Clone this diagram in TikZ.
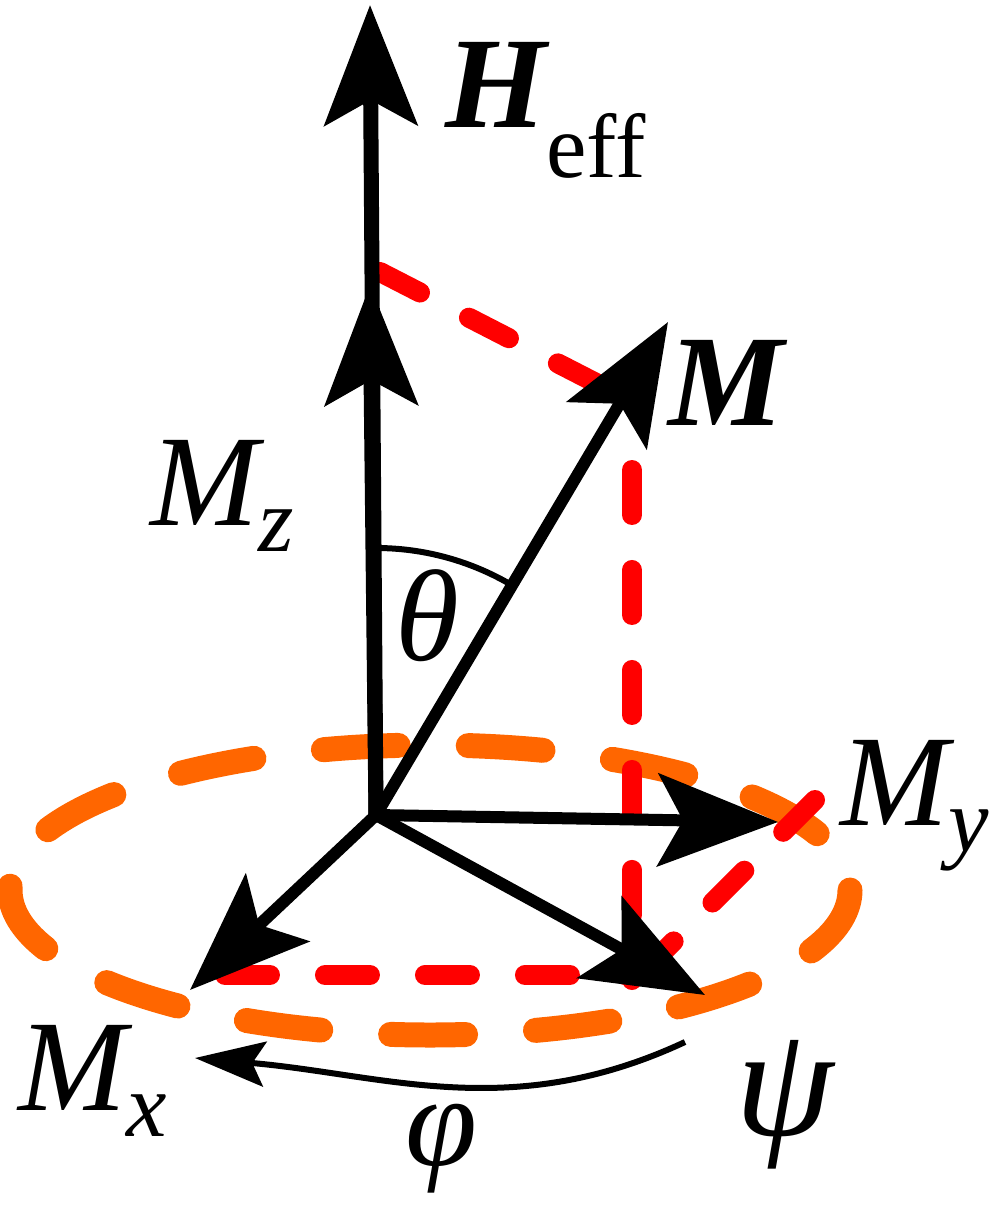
\documentclass[tikz,border=0pt]{standalone}
\usepackage{fontspec}
\setmainfont{Liberation Serif}
\usetikzlibrary{arrows.meta}
\tikzset{
  vec/.style={line width=0.3cm,-{Stealth[length=2.4cm,width=1.85cm,inset=0.5cm]}},
  thin vec/.style={line width=0.12cm,-{Stealth[length=1.4cm,width=0.9cm,inset=0.25cm]}},
  proj/.style={red,line width=0.4cm,line cap=round,dash pattern=on 0.9cm off 1.1cm},
  orbit/.style={orange!80!red,line width=0.5cm,line cap=round,dash pattern=on 1.5cm off 1.4cm},
  lbl/.style={font=\fontsize{74}{80}\selectfont\itshape,inner sep=0pt},
}
\begin{document}
\begin{tikzpicture}[x=0.02cm,y=-0.02cm]
  \useasboundingbox (0,0) rectangle (1004,1209);

  % precession orbit
  \draw[orbit] (430,890) ellipse (420 and 145);

  % projections
  \draw[proj] (380,272) -- (600,385);
  \draw[proj] (632,470) -- (632,980);
  \draw[proj] (225,975) -- (650,975);
  \draw[proj] (815,800) -- (650,965);

  % vectors
  \coordinate (o) at (376,815);
  \coordinate (heff) at (370,5);
  \coordinate (mz) at (370,285);
  \coordinate (m) at (668,322);
  \coordinate (my) at (778,822);
  \coordinate (mx) at (190,990);
  \coordinate (psi) at (705,995);
  \draw[vec] (o) -- (heff);
  \draw[vec] (o) -- (mz);
  \draw[vec,line width=0.24cm] (o) -- (m);
  \draw[vec,line width=0.24cm] (o) -- (my);
  \draw[vec,line width=0.24cm] (o) -- (mx);
  \draw[vec,line width=0.24cm] (o) -- (psi);

  % angles
  \draw[line width=0.12cm] ([shift={(-90:267)}]o) arc[start angle=-90,end angle=-59.4,radius=267];
  \draw[thin vec] (685,1042) to[out=205,in=-5] (195,1058);

  % labels
  \node[lbl,anchor=base west] (lheff) at (445,128) {\bfseries H\textsubscript{\upshape\mdseries eff}};
  \node[lbl,anchor=base west] (lm) at (668,425) {\bfseries M};
  \node[lbl,anchor=base west] (lmz) at (150,525) {M\textsubscript{z}};
  \node[lbl,anchor=base west] (lmy) at (840,825) {M\textsubscript{y}};
  \node[lbl,anchor=base west] (lmx) at (18,1110) {M\textsubscript{x}};
  \node[lbl,anchor=base west] (ltheta) at (395,660) {θ};
  \node[lbl,anchor=base west] (lphi) at (405,1165) {φ};
  \node[lbl,anchor=base west,font=\fontsize{90}{90}\selectfont\itshape] (lpsi) at (735,1135) {ψ};
\end{tikzpicture}
\end{document}
